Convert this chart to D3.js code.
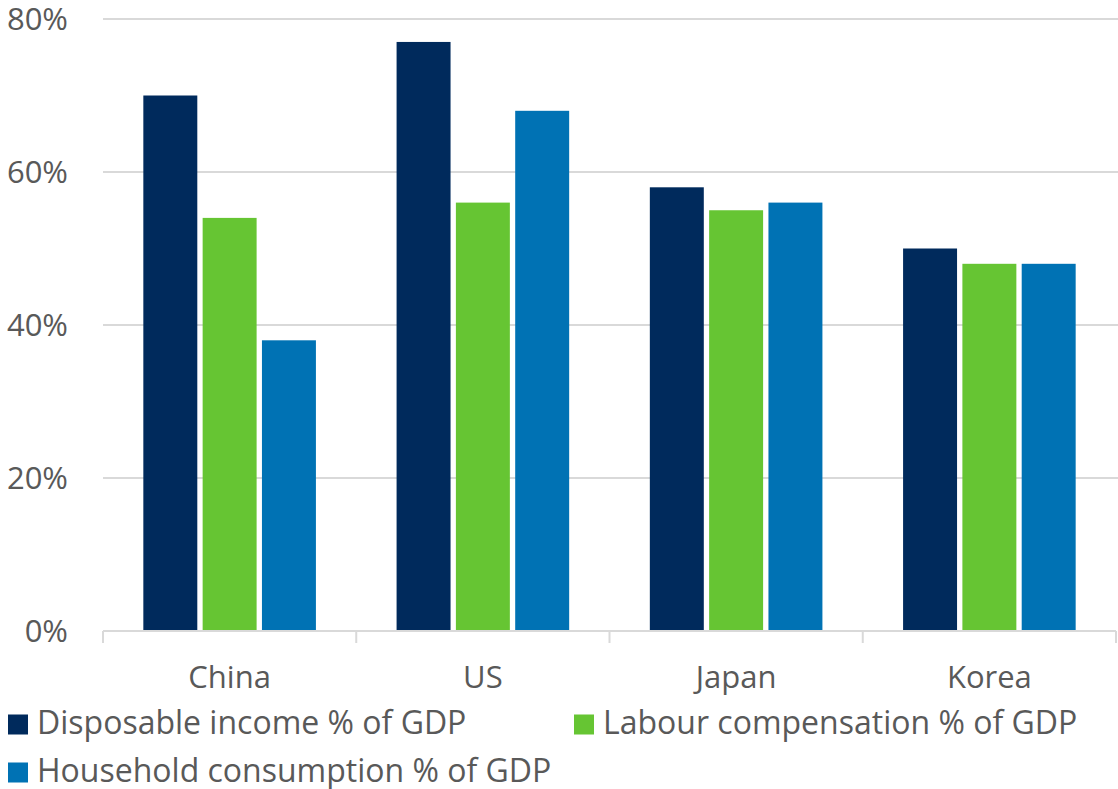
<!DOCTYPE html>
<html>
<head>
<meta charset="utf-8">
<script src="https://cdn.jsdelivr.net/npm/d3@7"></script>
<style>
  html, body { margin: 0; padding: 0; background: #fff; }
  svg { display: block; font-family: "Open Sans", sans-serif; }
</style>
</head>
<body>
<svg id="chart" width="1118" height="789"></svg>
<script>
// Household income and consumption shares of GDP by economy
const categories = ["China", "US", "Japan", "Korea"];
const seriesNames = [
  "Disposable income % of GDP",
  "Labour compensation % of GDP",
  "Household consumption % of GDP"
];
const disposableIncome = [70, 77, 58, 50];
const labourCompensation = [54, 56, 55, 48];
const householdConsumption = [38, 68, 56, 48];
const yTicks = [0, 20, 40, 60, 80];
const colors = ["#002a5c", "#66c533", "#0072b4"];

const seriesValues = [disposableIncome, labourCompensation, householdConsumption];

const svg = d3.select("#chart");
const margin = { left: 103, right: 2, top: 19, bottom: 158 };
const W = 1118, H = 789;
const plotBottom = H - margin.bottom; // 631

const x = d3.scaleBand()
  .domain(categories)
  .range([margin.left, W - margin.right])
  .paddingInner(0)
  .paddingOuter(0);

const x1 = d3.scaleBand()
  .domain(d3.range(seriesNames.length))
  .range([0, x.bandwidth()])
  .paddingInner(0.09)
  .paddingOuter(0.68);

const y = d3.scaleLinear().domain([0, 80]).range([plotBottom, margin.top]);

const textColor = "#595959";
const gridColor = "#d9d9d9";

// horizontal gridlines
svg.append("g")
  .selectAll("line")
  .data(yTicks.filter(d => d > 0))
  .join("line")
  .attr("x1", margin.left)
  .attr("x2", W)
  .attr("y1", d => y(d))
  .attr("y2", d => y(d))
  .attr("stroke", gridColor)
  .attr("stroke-width", 2);

// y tick labels
svg.append("g")
  .selectAll("text")
  .data(yTicks)
  .join("text")
  .attr("x", 68)
  .attr("y", d => y(d) + 10.5)
  .attr("text-anchor", "end")
  .attr("fill", textColor)
  .style("font-size", "31px")
  .text(d => d + "%");

// bars
const groups = svg.append("g")
  .selectAll("g")
  .data(categories)
  .join("g")
  .attr("transform", d => `translate(${x(d)},0)`);

groups.selectAll("rect")
  .data((c, ci) => seriesValues.map((vals, si) => ({ si, v: vals[ci] })))
  .join("rect")
  .attr("x", d => x1(d.si))
  .attr("width", x1.bandwidth())
  .attr("y", d => y(d.v))
  .attr("height", d => plotBottom - y(d.v))
  .attr("fill", d => colors[d.si]);

// x axis
const xAxis = svg.append("g").attr("transform", `translate(0,${plotBottom})`);
xAxis.append("line")
  .attr("x1", margin.left).attr("x2", W - margin.right)
  .attr("stroke", gridColor).attr("stroke-width", 2);
const bounds = categories.map(c => x(c)).concat([x(categories[categories.length - 1]) + x.bandwidth()]);
xAxis.selectAll(".tick")
  .data(bounds)
  .join("line")
  .attr("x1", d => d).attr("x2", d => d)
  .attr("y1", 0).attr("y2", 12)
  .attr("stroke", gridColor).attr("stroke-width", 2);
xAxis.selectAll("text")
  .data(categories)
  .join("text")
  .attr("x", d => x(d) + x.bandwidth() / 2)
  .attr("y", 57)
  .attr("text-anchor", "middle")
  .attr("fill", textColor)
  .style("font-size", "31px")
  .text(d => d);

// legend
const legendPos = [
  { x: 8, y: 724.5 },
  { x: 574, y: 724.5 },
  { x: 8, y: 772.5 }
];
const legend = svg.append("g")
  .selectAll("g")
  .data(seriesNames)
  .join("g")
  .attr("transform", (d, i) => `translate(${legendPos[i].x},${legendPos[i].y})`);
legend.append("rect")
  .attr("x", 0).attr("y", -10)
  .attr("width", 20).attr("height", 20)
  .attr("fill", (d, i) => colors[i]);
legend.append("text")
  .attr("x", 29)
  .attr("y", 9)
  .attr("fill", textColor)
  .style("font-size", "32px")
  .text(d => d);
</script>
</body>
</html>
